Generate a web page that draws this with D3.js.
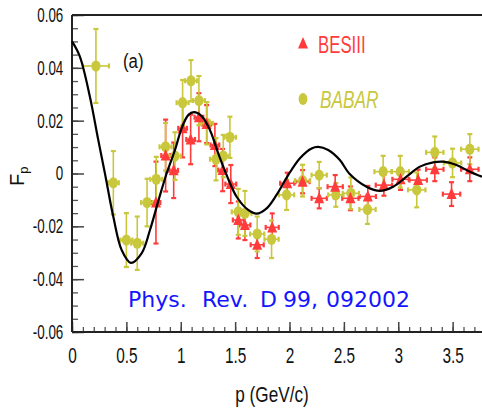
<!DOCTYPE html>
<html>
<head>
<meta charset="utf-8">
<script src="https://cdn.jsdelivr.net/npm/d3@7"></script>
<style>
  body { margin: 0; background: #fff; }
  svg { display: block; }
</style>
</head>
<body>
<svg id="chart" width="482" height="408"></svg>
<script>
// BESIII points (p, F_p, error in F, half width in p)
var besP  = [0.772, 0.861, 0.935, 1.017, 1.091, 1.167, 1.238, 1.314, 1.385, 1.46, 1.529, 1.59, 1.703,
             1.841, 1.979, 2.12, 2.273, 2.42, 2.56, 2.72, 2.868, 3.021, 3.183, 3.336, 3.49, 3.658];
var besF  = [-0.011, 0.0068, 0.0012, 0.0171, 0.0129, 0.0213, 0.0187, 0.0108, 0.0013, -0.004, -0.0176, -0.0195, -0.027,
             -0.0204, -0.0037, -0.0031, -0.0094, -0.005, -0.0094, -0.0087, -0.0044, -0.0022, -0.0025, 0.0016, -0.0078, 0.0016];
var besE  = [0.0155, 0.0136, 0.0105, 0.011, 0.0094, 0.0091, 0.0072, 0.008, 0.008, 0.0072, 0.007, 0.0057, 0.005,
             0.0053, 0.004, 0.0044, 0.0038, 0.0044, 0.0045, 0.004, 0.004, 0.004, 0.004, 0.0045, 0.0045, 0.0045];
var besPE = [0.04, 0.04, 0.04, 0.04, 0.04, 0.04, 0.04, 0.04, 0.04, 0.05, 0.05, 0.05, 0.06,
             0.06, 0.065, 0.065, 0.07, 0.07, 0.075, 0.075, 0.075, 0.075, 0.08, 0.08, 0.08, 0.08];

// BABAR points
var babP  = [0.22, 0.38, 0.50, 0.60, 0.69, 0.775, 0.86, 0.947, 1.017, 1.094, 1.167, 1.24, 1.324, 1.391, 1.452,
             1.529, 1.59, 1.703, 1.835, 1.973, 2.12, 2.273, 2.426, 2.564, 2.717, 2.861, 3.018, 3.17, 3.336, 3.499, 3.658];
var babF  = [0.0407, -0.0035, -0.0252, -0.0264, -0.011, -0.0022, 0.0101, 0.0066, 0.0268, 0.0351, 0.0276, 0.019, 0.0054, 0.0066, 0.0137,
             -0.0145, -0.0151, -0.0229, -0.0249, -0.0081, -0.0027, -0.0006, -0.0081, -0.0075, -0.0136, 0.0007, 0.0007, -0.0062, 0.008, 0.004, 0.0092];
var babE  = [0.014, 0.012, 0.0102, 0.0101, 0.009, 0.0085, 0.009, 0.009, 0.0086, 0.0078, 0.0093, 0.008, 0.008, 0.008, 0.0078,
             0.0087, 0.0085, 0.0066, 0.0071, 0.0057, 0.006, 0.005, 0.0045, 0.006, 0.0055, 0.006, 0.006, 0.0066, 0.006, 0.0054, 0.0057];
var babPE = [0.12, 0.05, 0.055, 0.055, 0.055, 0.055, 0.055, 0.055, 0.055, 0.055, 0.055, 0.055, 0.055, 0.055, 0.055,
             0.06, 0.06, 0.065, 0.065, 0.07, 0.07, 0.07, 0.07, 0.075, 0.075, 0.08, 0.08, 0.08, 0.08, 0.08, 0.08];

// fit curve
var curveP = [0, 0.07, 0.165, 0.24, 0.303, 0.38, 0.457, 0.54, 0.64, 0.717, 0.80, 0.87, 0.947, 1.008, 1.069, 1.12,
              1.19, 1.268, 1.345, 1.422, 1.514, 1.62, 1.697, 1.79, 1.881, 1.988, 2.096, 2.203, 2.264, 2.356, 2.463,
              2.549, 2.708, 2.831, 2.953, 3.076, 3.199, 3.321, 3.413, 3.536, 3.658, 3.77];
var curveF = [0.05, 0.0445, 0.029, 0.013, 0.0, -0.0164, -0.029, -0.0338, -0.0302, -0.0214, -0.0095, 0.0, 0.0089, 0.0171, 0.0221, 0.0232,
              0.0218, 0.0165, 0.0076, -0.0006, -0.0088, -0.0138, -0.0152, -0.0132, -0.0081, -0.0006, 0.0058, 0.0095, 0.0101, 0.0089, 0.0051,
              0.0, -0.005, -0.0066, -0.005, -0.0012, 0.0026, 0.0042, 0.0045, 0.0032, 0.0007, -0.0012];

var xTicks = [0, 0.5, 1, 1.5, 2, 2.5, 3, 3.5];
var xTickLabels = ["0", "0.5", "1", "1.5", "2", "2.5", "3", "3.5"];
var yTicks = [-0.06, -0.04, -0.02, 0, 0.02, 0.04, 0.06];
var yTickLabels = ["-0.06", "-0.04", "-0.02", "0", "0.02", "0.04", "0.06"];

var red = "#ff3b3b", yel = "#c9c73c";

var svg = d3.select("#chart");
var mLeft = 72, mTop = 15, mBottom = 332, mRight = 482;

var x = d3.scaleLinear().domain([0, 3.77]).range([mLeft, mRight]);
var y = d3.scaleLinear().domain([-0.06, 0.06]).range([mBottom, mTop]);

// minor ticks
var xMinor = d3.range(0, 38).map(function(i) { return i / 10; });
var yMinor = d3.range(-12, 13).map(function(i) { return i * 0.005; });

svg.append("g")
  .attr("transform", "translate(0," + mBottom + ")")
  .call(d3.axisBottom(x).tickValues(xMinor).tickSize(-5).tickFormat(""))
  .call(function(g) { g.select(".domain").remove(); g.selectAll("line").attr("stroke", "#555").attr("stroke-width", 1.3); });

svg.append("g")
  .attr("transform", "translate(" + mLeft + ",0)")
  .call(d3.axisLeft(y).tickValues(yMinor).tickSize(-6).tickFormat(""))
  .call(function(g) { g.select(".domain").remove(); g.selectAll("line").attr("stroke", "#555").attr("stroke-width", 1.3); });

// major ticks + labels
var xAxis = svg.append("g")
  .attr("transform", "translate(0," + mBottom + ")")
  .call(d3.axisBottom(x).tickValues(xTicks).tickSize(-10).tickPadding(15)
        .tickFormat(function(d, i) { return xTickLabels[i]; }));
xAxis.select(".domain").remove();
xAxis.selectAll("line").attr("stroke", "#444").attr("stroke-width", 1.5);
xAxis.selectAll("text")
  .attr("font-family", "Liberation Sans, Arial, sans-serif")
  .attr("font-size", 22).attr("fill", "#111")
  .attr("transform", "scale(0.7,1)");

var yAxis = svg.append("g")
  .attr("transform", "translate(" + mLeft + ",0)")
  .call(d3.axisLeft(y).tickValues(yTicks).tickSize(-12).tickPadding(13)
        .tickFormat(function(d, i) { return yTickLabels[i]; }));
yAxis.select(".domain").remove();
yAxis.selectAll("line").attr("stroke", "#444").attr("stroke-width", 1.5);
yAxis.selectAll("text")
  .attr("font-family", "Liberation Sans, Arial, sans-serif")
  .attr("font-size", 20).attr("fill", "#111")
  .attr("transform", "scale(0.67,1)");

// frame lines
svg.append("line").attr("x1", mLeft).attr("x2", mRight).attr("y1", mBottom).attr("y2", mBottom)
  .attr("stroke", "#222").attr("stroke-width", 2);
svg.append("line").attr("x1", mLeft).attr("x2", mLeft).attr("y1", mTop).attr("y2", mBottom)
  .attr("stroke", "#222").attr("stroke-width", 2);
svg.append("line").attr("x1", mLeft).attr("x2", mRight).attr("y1", mTop).attr("y2", mTop)
  .attr("stroke", "#222").attr("stroke-width", 2);

// error bars
function errBars(px, pf, pe, ppe, color, cls) {
  var g = svg.append("g").attr("class", cls)
    .attr("stroke", color).attr("stroke-width", 1.6);
  px.forEach(function(p, i) {
    var cx = x(p), cy = y(pf[i]);
    var y0 = y(pf[i] - pe[i]), y1 = y(pf[i] + pe[i]);
    var x0 = x(p - ppe[i]), x1 = x(p + ppe[i]);
    g.append("line").attr("x1", cx).attr("x2", cx).attr("y1", y0).attr("y2", y1);
    g.append("line").attr("x1", x0).attr("x2", x1).attr("y1", cy).attr("y2", cy);
    g.append("line").attr("x1", cx - 2.5).attr("x2", cx + 2.5).attr("y1", y0).attr("y2", y0).attr("stroke-width", 2.2);
    g.append("line").attr("x1", cx - 2.5).attr("x2", cx + 2.5).attr("y1", y1).attr("y2", y1).attr("stroke-width", 2.2);
    g.append("line").attr("x1", x0).attr("x2", x0).attr("y1", cy - 2.5).attr("y2", cy + 2.5).attr("stroke-width", 2.2);
    g.append("line").attr("x1", x1).attr("x2", x1).attr("y1", cy - 2.5).attr("y2", cy + 2.5).attr("stroke-width", 2.2);
  });
}

errBars(besP, besF, besE, besPE, red, "bes-err");
errBars(babP, babF, babE, babPE, yel, "bab-err");

function triPath(cx, cy) {
  return "M" + cx + "," + (cy - 6.5) + "L" + (cx + 5) + "," + (cy + 5) + "L" + (cx - 5) + "," + (cy + 5) + "Z";
}

svg.append("g").selectAll("ellipse")
  .data(babP).enter().append("ellipse")
  .attr("cx", function(d) { return x(d); })
  .attr("cy", function(d, i) { return y(babF[i]); })
  .attr("rx", 4.6).attr("ry", 5.6)
  .attr("fill", yel);

svg.append("g").selectAll("path")
  .data(besP).enter().append("path")
  .attr("d", function(d, i) { return triPath(x(d), y(besF[i])); })
  .attr("fill", red);

// curve
var line = d3.line()
  .x(function(d) { return x(d[0]); })
  .y(function(d) { return y(d[1]); })
  .curve(d3.curveCatmullRom);

svg.append("path")
  .datum(curveP.map(function(p, i) { return [p, curveF[i]]; }))
  .attr("d", line)
  .attr("fill", "none").attr("stroke", "#000").attr("stroke-width", 2.2);

// legend
svg.append("path").attr("d", triPath(303, 43.5)).attr("fill", red);
svg.append("ellipse").attr("cx", 303).attr("cy", 99).attr("rx", 4.4).attr("ry", 6).attr("fill", yel);

svg.append("text").attr("transform", "translate(318,53) scale(0.7,1)")
  .attr("font-family", "Liberation Sans, Arial, sans-serif").attr("font-size", 24)
  .attr("fill", red).text("BESIII");
svg.append("text").attr("transform", "translate(320,108) scale(0.72,1)")
  .attr("font-family", "Liberation Sans, Arial, sans-serif").attr("font-size", 24)
  .attr("font-style", "italic").attr("fill", yel).text("BABAR");

svg.append("text").attr("transform", "translate(123,67.5) scale(0.8,1)")
  .attr("font-family", "Liberation Sans, Arial, sans-serif").attr("font-size", 21)
  .attr("fill", "#111").text("(a)");

// reference
var ref = svg.append("text")
  .attr("font-family", "DejaVu Sans, sans-serif").attr("font-size", 22)
  .attr("fill", "#1414ff").attr("y", 307);
ref.append("tspan").attr("x", 128).text("Phys.");
ref.append("tspan").attr("x", 202).text("Rev.");
ref.append("tspan").attr("x", 260).text("D");
ref.append("tspan").attr("x", 283).text("99,");
ref.append("tspan").attr("x", 326).text("092002");

// axis titles
svg.append("text").attr("transform", "translate(272,402) scale(0.78,1)")
  .attr("text-anchor", "middle")
  .attr("font-family", "Liberation Sans, Arial, sans-serif").attr("font-size", 22)
  .attr("fill", "#111").text("p (GeV/c)");

var yt = svg.append("text").attr("transform", "translate(24,186) rotate(-90)")
  .attr("font-family", "Liberation Sans, Arial, sans-serif").attr("font-size", 20)
  .attr("fill", "#111");
yt.append("tspan").text("F");
yt.append("tspan").attr("font-size", 13).attr("dy", 4).text("p");
</script>
</body>
</html>
